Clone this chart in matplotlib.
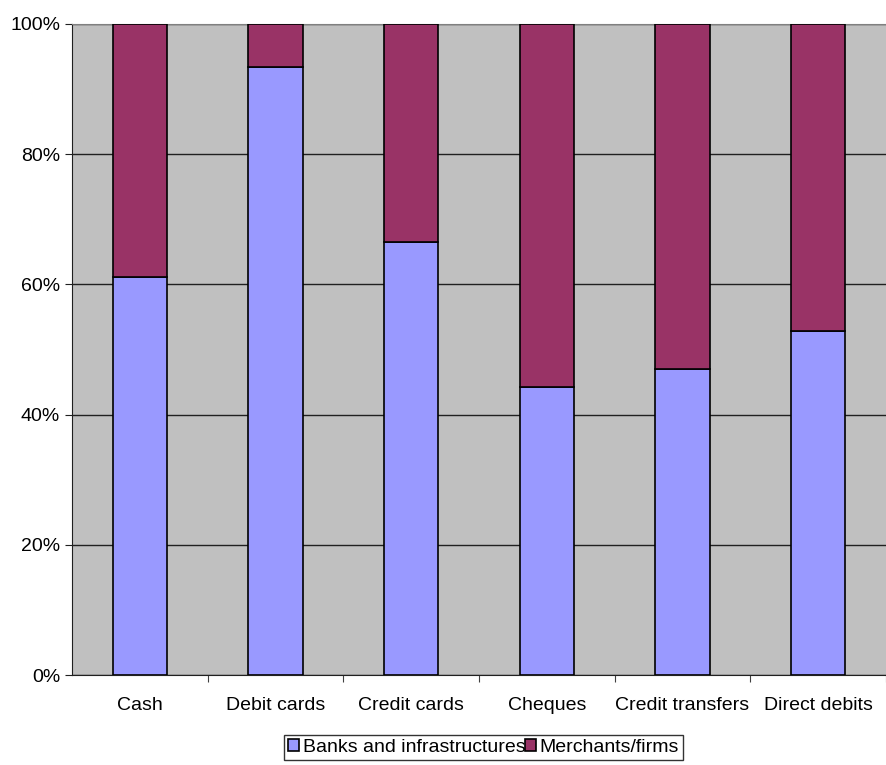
import matplotlib
matplotlib.use("Agg")
import matplotlib.pyplot as plt
import numpy as np

plt.rcParams['font.family'] = ['Liberation Sans', 'DejaVu Sans']

categories = ["Cash", "Debit cards", "Credit cards", "Cheques", "Credit transfers", "Direct debits"]
banks = [61.2, 93.4, 66.5, 44.2, 47.0, 52.8]
merchants = [100 - b for b in banks]
series_names = ["Banks and infrastructures", "Merchants/firms"]

fig = plt.figure(figsize=(8.86, 7.65), dpi=100)
ax = fig.add_axes([72/886, 90/765, 814/886, 651/765])
ax.set_facecolor("#C0C0C0")

x = np.arange(len(categories))
ax.bar(x, banks, width=0.4, color="#9999FF", edgecolor="black", linewidth=1.2,
       label=series_names[0], zorder=3)
ax.bar(x, merchants, width=0.4, bottom=banks, color="#993366", edgecolor="black",
       linewidth=1.2, label=series_names[1], zorder=3)

ax.set_ylim(0, 100)
ax.set_xlim(-0.5, -0.5 + 814/136.5)
ax.set_yticks(range(0, 101, 20))
ax.set_yticklabels([f"{v}%" for v in range(0, 101, 20)], fontsize=14)
ax.yaxis.grid(True, color="#202020", linewidth=1, zorder=1)
ax.tick_params(axis='y', length=5, direction='out', color="#202020")

ax.set_xticks(x + 0.5)
ax.set_xticklabels([])
ax.set_xticks(x, minor=True)
ax.set_xticklabels(categories, minor=True, fontsize=14)
ax.tick_params(axis='x', which='major', length=5, direction='out', color="#404040")
ax.tick_params(axis='x', which='minor', length=0, pad=16)

ax.spines['right'].set_visible(False)
ax.spines['top'].set_color("#808080")
ax.spines['left'].set_color("#202020")
ax.spines['bottom'].set_color("#202020")

leg = fig.legend(loc='upper right', bbox_to_anchor=(683/886, 1 - 735/765), ncol=2,
                 fontsize=14, frameon=True, fancybox=False, edgecolor="black",
                 handlelength=0.55, handleheight=0.55, handletextpad=0.2,
                 columnspacing=0.0, borderpad=0.2, borderaxespad=0)
leg.get_frame().set_linewidth(1)

fig.savefig("out.png", dpi=100)
